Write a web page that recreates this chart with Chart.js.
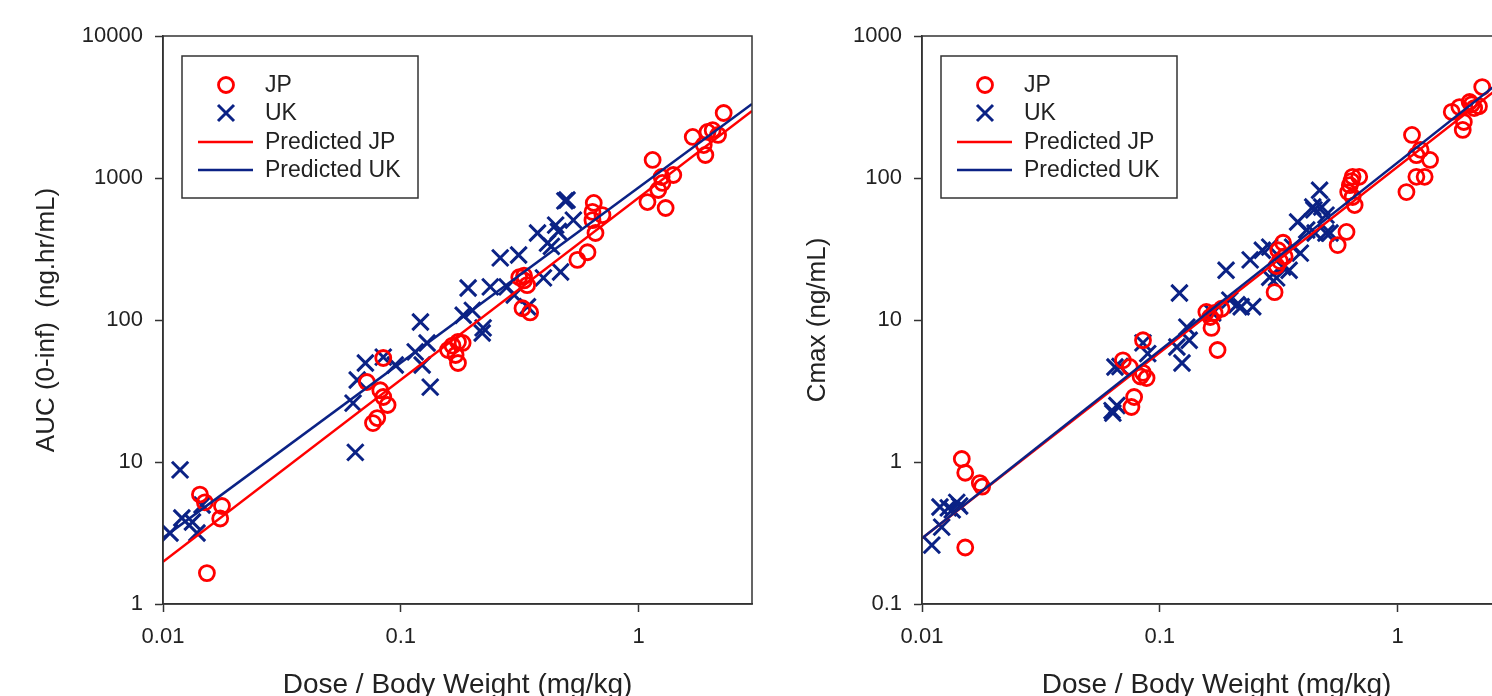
<!DOCTYPE html>
<html>
<head>
<meta charset="utf-8">
<script src="https://cdn.jsdelivr.net/npm/chart.js@4"></script>
<style>
  html, body { margin: 0; padding: 0; background: #fff; overflow: hidden; }
  #wrap { position: relative; width: 1492px; height: 696px; overflow: hidden; }
  canvas { position: absolute; top: 0; }
  #aucChart { left: 0; }
  #cmaxChart { left: 759px; }
</style>
</head>
<body>
<div id="wrap">
  <canvas id="aucChart" width="770" height="696"></canvas>
  <canvas id="cmaxChart" width="770" height="696"></canvas>
</div>
<script>
// --- AUC (0-inf) vs dose per body weight ---
const aucJpDose  = [0.0143, 0.0150, 0.0177, 0.0174, 0.0153,
                    0.072, 0.0844, 0.082, 0.0844, 0.088, 0.0796, 0.0764,
                    0.158, 0.174, 0.182, 0.170, 0.174, 0.165,
                    0.315, 0.33, 0.34, 0.325, 0.35, 0.33,
                    0.553, 0.61, 0.648, 0.64, 0.705, 0.64, 0.659,
                    1.146, 1.25, 1.40, 1.26, 1.21, 1.09, 1.30,
                    1.69, 1.95, 2.05, 2.16, 1.88, 1.91, 2.28];
const aucJpValue = [5.9, 5.2, 4.9, 4.0, 1.65,
                    36.6, 54, 32, 28.7, 25.2, 20.4, 18.8,
                    61.5, 70, 68.9, 56.7, 49.8, 66,
                    200, 205, 176, 121, 113, 190,
                    265, 300, 667, 577, 548, 505, 410,
                    1340, 1016, 1050, 923, 823, 677, 615,
                    1945, 2110, 2170, 2010, 1706, 1452, 2870];
const aucUkDose  = [0.0107, 0.0120, 0.0133, 0.0139, 0.0146, 0.0118,
                    0.063, 0.0656, 0.071, 0.0844, 0.0948, 0.0644,
                    0.121, 0.115, 0.129, 0.123, 0.133,
                    0.183, 0.200, 0.192, 0.222, 0.220,
                    0.238, 0.280, 0.262, 0.313, 0.341, 0.376, 0.414, 0.430,
                    0.448, 0.470, 0.398, 0.532, 0.490, 0.500, 0.460, 0.300];
const aucUkValue = [3.16, 4.03, 3.78, 3.16, 4.98, 8.8,
                    26, 37.8, 49.8, 54.8, 48.2, 11.7,
                    96.8, 59.6, 68.9, 48.2, 33.7,
                    108, 117, 168, 88, 81,
                    171, 171, 274, 287, 124, 410, 348, 330,
                    466, 218, 198, 505, 690, 700, 420, 150];
const aucPredJp  = [1.98, 2965];
const aucPredUk  = [2.92, 3320];

// --- Cmax vs dose per body weight ---
const cmaxJpDose  = [0.0147, 0.0152, 0.0175, 0.0179, 0.0152,
                     0.070, 0.0748, 0.085, 0.085, 0.088, 0.083, 0.078, 0.076,
                     0.157, 0.170, 0.163, 0.165, 0.175, 0.182,
                     0.33, 0.315, 0.335, 0.32, 0.31, 0.304,
                     0.56, 0.61, 0.62, 0.63, 0.647, 0.69, 0.647, 0.66, 0.64,
                     1.09, 1.15, 1.20, 1.25, 1.37, 1.20, 1.30,
                     1.69, 1.82, 1.90, 1.88, 2.01, 2.10, 2.05, 2.20, 2.27];
const cmaxJpValue = [1.05, 0.84, 0.71, 0.67, 0.25,
                     5.2, 4.67, 7.2, 4.24, 3.9, 4.0, 2.87, 2.44,
                     11.4, 11.2, 10.5, 8.8, 6.15, 12,
                     35, 31, 28, 26, 24, 15.7,
                     33.7, 41.7, 79.6, 89, 102, 102, 73.5, 64.5, 95,
                     79.6, 201, 145, 158, 134, 102, 102,
                     292, 316, 248, 218, 343, 311, 330, 320, 437];
const cmaxUkDose  = [0.0110, 0.0121, 0.0119, 0.0129, 0.0140, 0.0144, 0.0134,
                     0.0635, 0.066, 0.0648, 0.068, 0.085, 0.089, 0.118, 0.124, 0.133, 0.121, 0.130, 0.063,
                     0.167, 0.19, 0.197, 0.211, 0.22, 0.246, 0.24, 0.27, 0.29,
                     0.329, 0.35, 0.29, 0.31, 0.362, 0.39, 0.38, 0.415, 0.45, 0.50,
                     0.44, 0.48, 0.47, 0.445, 0.50, 0.52];
const cmaxUkValue = [0.26, 0.348, 0.482, 0.475, 0.52, 0.49, 0.46,
                     2.21, 2.5, 4.67, 4.7, 6.9, 5.8, 6.46, 4.98, 7.2, 15.5, 8.9, 2.3,
                     11.2, 22.4, 13.8, 12.8, 12.4, 12.4, 26.5, 31, 32.6,
                     23.6, 22.4, 20, 19.8, 32.6, 29.6, 49, 43, 41, 41,
                     62.5, 62.5, 82, 59.6, 54.8, 41];
const cmaxPredJp  = [0.29, 505];
const cmaxPredUk  = [0.29, 550];

const predDose = [0.01, 3];

const doseTicks = [0.01, 0.1, 1];
const doseTickLabels = ['0.01', '0.1', '1'];
const aucTicks = [1, 10, 100, 1000, 10000];
const aucTickLabels = ['1', '10', '100', '1000', '10000'];
const cmaxTicks = [0.1, 1, 10, 100, 1000];
const cmaxTickLabels = ['0.1', '1', '10', '100', '1000'];

const RED = '#ff0000';
const NAVY = '#0b2285';
const INK = '#222222';
const FONT = '"Liberation Sans", Arial, Helvetica, sans-serif';

function toPoints(xs, ys) {
    return xs.map((x, i) => ({ x: x, y: ys[i] }));
}

// box around the plot area plus a boxed legend in its upper-left corner
const frameLegend = {
    id: 'frameLegend',
    afterDatasetsDraw(chart) {
        const ctx = chart.ctx;
        const a = chart.chartArea;
        ctx.save();
        ctx.strokeStyle = '#333';
        ctx.lineWidth = 1.5;
        ctx.strokeRect(a.left, a.top, a.right - a.left, a.bottom - a.top);

        const bx = a.left + 19, by = a.top + 20, bw = 236, bh = 142;
        ctx.fillStyle = '#fff';
        ctx.fillRect(bx, by, bw, bh);
        ctx.strokeRect(bx, by, bw, bh);

        const rows = [29, 57, 86, 114];
        ctx.font = '23px ' + FONT;
        ctx.textBaseline = 'middle';
        chart.data.datasets.forEach((ds, i) => {
            const y = by + rows[i];
            const mx = bx + 44;
            ctx.strokeStyle = ds.borderColor;
            if (ds.showLine) {
                ctx.lineWidth = 2.5;
                ctx.beginPath();
                ctx.moveTo(bx + 16, y);
                ctx.lineTo(bx + 71, y);
                ctx.stroke();
            } else if (ds.pointStyle === 'circle') {
                ctx.lineWidth = 2.8;
                ctx.beginPath();
                ctx.arc(mx, y, 7.5, 0, Math.PI * 2);
                ctx.stroke();
            } else {
                ctx.lineWidth = 3;
                ctx.beginPath();
                ctx.moveTo(mx - 8, y - 8); ctx.lineTo(mx + 8, y + 8);
                ctx.moveTo(mx + 8, y - 8); ctx.lineTo(mx - 8, y + 8);
                ctx.stroke();
            }
            ctx.fillStyle = INK;
            ctx.fillText(ds.label, bx + 83, y + 1);
        });
        ctx.restore();
    }
};

function logAxis(min, max, ticks, labels, title, titlePad, horizontal) {
    return {
        type: 'logarithmic',
        min: min,
        max: max,
        afterBuildTicks: (scale) => { scale.ticks = ticks.map(v => ({ value: v })); },
        afterFit: (scale) => {
            if (horizontal) scale.height = 92; else scale.width = 163;
        },
        ticks: {
            autoSkip: false,
            maxRotation: 0,
            padding: horizontal ? 12 : 12,
            color: INK,
            font: { family: FONT, size: 22 },
            callback: (value, index) => labels[index]
        },
        grid: {
            drawOnChartArea: false,
            drawTicks: true,
            tickLength: 8,
            tickColor: '#333',
            tickWidth: 1.5
        },
        border: { display: true, color: '#333', width: 1.5 },
        title: {
            display: true,
            text: title,
            color: INK,
            font: { family: FONT, size: horizontal ? 28 : 26, lineHeight: horizontal ? 0.8 : 1 },
            padding: { top: titlePad, bottom: 0 }
        }
    };
}

function buildChart(id, jp, uk, predJp, predUk, yMin, yMax, yTicks, yLabels, yTitle, yTitlePad) {
    const ctx = document.getElementById(id).getContext('2d');
    return new Chart(ctx, {
        type: 'scatter',
        data: {
            datasets: [
                {
                    label: 'JP',
                    data: jp,
                    pointStyle: 'circle',
                    pointRadius: 7.5,
                    borderColor: RED,
                    backgroundColor: 'rgba(0,0,0,0)',
                    borderWidth: 2.8,
                    order: 2
                },
                {
                    label: 'UK',
                    data: uk,
                    pointStyle: 'crossRot',
                    pointRadius: 11.5,
                    borderColor: NAVY,
                    backgroundColor: NAVY,
                    borderWidth: 3,
                    order: 3
                },
                {
                    label: 'Predicted JP',
                    data: predJp,
                    showLine: true,
                    pointRadius: 0,
                    borderColor: RED,
                    borderWidth: 2.5,
                    fill: false,
                    order: 1
                },
                {
                    label: 'Predicted UK',
                    data: predUk,
                    showLine: true,
                    pointRadius: 0,
                    borderColor: NAVY,
                    borderWidth: 2.5,
                    fill: false,
                    order: 0
                }
            ]
        },
        options: {
            responsive: false,
            animation: false,
            layout: { padding: { left: 0, right: 18, top: 36, bottom: 0 } },
            plugins: {
                legend: { display: false },
                tooltip: { enabled: false }
            },
            scales: {
                x: logAxis(0.01, 3, doseTicks, doseTickLabels, 'Dose / Body Weight (mg/kg)', 0, true),
                y: logAxis(yMin, yMax, yTicks, yLabels, yTitle, yTitlePad, false)
            }
        },
        plugins: [frameLegend]
    });
}

document.addEventListener('DOMContentLoaded', function() {
    buildChart('aucChart',
        toPoints(aucJpDose, aucJpValue), toPoints(aucUkDose, aucUkValue),
        toPoints(predDose, aucPredJp), toPoints(predDose, aucPredUk),
        1, 10000, aucTicks, aucTickLabels, 'AUC (0-inf)  (ng.hr/mL)', 34);

    buildChart('cmaxChart',
        toPoints(cmaxJpDose, cmaxJpValue), toPoints(cmaxUkDose, cmaxUkValue),
        toPoints(predDose, cmaxPredJp), toPoints(predDose, cmaxPredUk),
        0.1, 1000, cmaxTicks, cmaxTickLabels, 'Cmax (ng/mL)', 46);
});
</script>
</body>
</html>
